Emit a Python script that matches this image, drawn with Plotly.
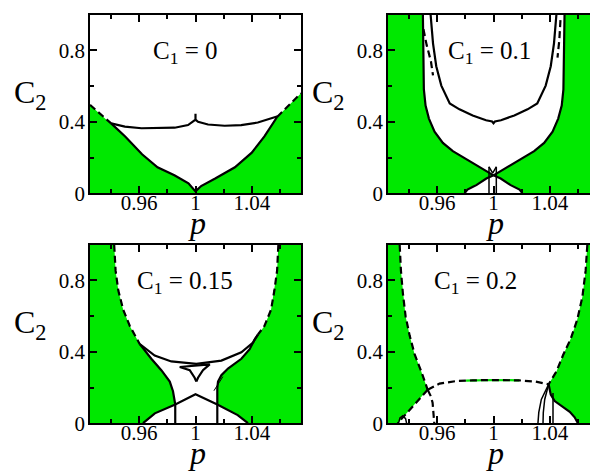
import plotly.graph_objects as go

# ---------------- axis ranges / ticks ----------------
P_MIN, P_MAX = 0.925, 1.075
C_MIN, C_MAX = 0.0, 1.0
X_TICKS = [0.96, 1.0, 1.04]
X_TICK_TEXT = ["0.96", "1", "1.04"]
X_MINOR = [0.94, 0.98, 1.02, 1.06]
Y_TICKS = [0.0, 0.4, 0.8]
Y_TICK_TEXT = ["0", "0.4", "0.8"]
Y_MINOR = [0.2, 0.6]
PANEL_LABELS = ["C<sub>1</sub> = 0", "C<sub>1</sub> = 0.1",
                "C<sub>1</sub> = 0.15", "C<sub>1</sub> = 0.2"]
LABEL_P = [0.993, 0.997, 0.9925, 0.987]
LABEL_C = [0.79, 0.79, 0.79, 0.79]

# ---------------- panel 1 : C1 = 0 ----------------
P1_BOUND_P = [0.925, 0.940, 0.950, 0.962, 0.973, 0.985, 0.995, 1.000, 1.004, 1.014, 1.028, 1.040, 1.049, 1.058, 1.075]
P1_BOUND_C = [0.495, 0.391, 0.318, 0.218, 0.145, 0.100, 0.055, 0.010, 0.040, 0.082, 0.145, 0.227, 0.318, 0.427, 0.560]
P1_UPPER_P = [0.940, 0.9498, 0.9616, 0.9734, 0.9852, 0.9947, 0.9994, 1.000, 1.000, 1.000, 1.0018, 1.0089, 1.0207, 1.0325, 1.0443, 1.0585]
P1_UPPER_C = [0.391, 0.373, 0.364, 0.364, 0.367, 0.382, 0.405, 0.412, 0.445, 0.412, 0.400, 0.385, 0.378, 0.382, 0.396, 0.431]

# ---------------- panel 2 : C1 = 0.1 ----------------
P2_OUT_C = [1.0, 0.764, 0.582, 0.491, 0.418, 0.345, 0.282, 0.236, 0.191, 0.145, 0.100]
P2_OUTL_P = [0.9498, 0.9500, 0.9505, 0.9517, 0.9541, 0.9581, 0.9640, 0.9711, 0.9805, 0.9911, 1.0]
P2_OUTR_P = [1.0505, 1.0503, 1.0497, 1.0485, 1.0460, 1.0420, 1.0360, 1.0289, 1.0195, 1.0089, 1.0]
P2_LENSL_P = [0.9795, 0.9815, 0.9854, 0.9878, 0.9949, 1.0]
P2_LENSL_C = [0.0, 0.020, 0.036, 0.045, 0.082, 0.100]
P2_LENSR_P = [1.0, 1.0051, 1.0122, 1.0146, 1.0185, 1.0205]
P2_LENSR_C = [0.100, 0.082, 0.045, 0.036, 0.020, 0.0]
P2_INNER_P = [0.9553, 0.957, 0.9593, 0.9629, 0.9689, 0.9758, 0.9852, 0.9947, 0.999, 1.0, 1.001, 1.0053, 1.0148, 1.0242, 1.0311, 1.0371, 1.0407, 1.043, 1.0447]
P2_INNER_C = [1.0, 0.84, 0.712, 0.603, 0.503, 0.47, 0.436, 0.409, 0.402, 0.392, 0.402, 0.409, 0.436, 0.47, 0.503, 0.603, 0.712, 0.84, 1.0]
P2_DASHL_P = [0.9502, 0.9525, 0.9555, 0.957]
P2_DASHL_C = [0.92, 0.83, 0.74, 0.66]
P2_DASHR_P = [1.0476, 1.0468, 1.0455]
P2_DASHR_C = [0.97, 0.86, 0.76]
P2_VERT_P = [0.9968, 1.002]
P2_VERT_TOP = 0.148
P2_V_P = [0.9968, 0.9994, 1.002]
P2_V_C = [0.148, 0.112, 0.148]

# ---------------- panel 3 : C1 = 0.15 ----------------
P3_DASHL_P = [0.9422, 0.9432, 0.9451, 0.9486, 0.9533, 0.9604]
P3_DASHL_C = [1.0, 0.855, 0.745, 0.636, 0.545, 0.443]
P3_LOWL_P = [0.9604, 0.9686, 0.9757, 0.9817, 0.984, 0.9852, 0.9856]
P3_LOWL_C = [0.443, 0.361, 0.297, 0.233, 0.179, 0.130, 0.105]
P3_DASHR_P = [1.0589, 1.058, 1.0561, 1.0537, 1.049, 1.0444]
P3_DASHR_C = [1.0, 0.855, 0.745, 0.636, 0.545, 0.497]
P3_LOWR_P = [1.0444, 1.0421, 1.0385, 1.0326, 1.0231, 1.0184, 1.016, 1.0155, 1.0155]
P3_LOWR_C = [0.497, 0.47, 0.415, 0.361, 0.306, 0.269, 0.233, 0.197, 0.105]
P3_BUMP_P = [0.9627, 0.9711, 0.9856, 1.0, 1.0155, 1.030, 1.0373]
P3_BUMP_C = [0.0, 0.055, 0.105, 0.162, 0.105, 0.045, 0.0]
P3_ARC_P = [0.9604, 0.971, 0.9828, 1.0006, 1.0184, 1.0326, 1.0409, 1.0444]
P3_ARC_C = [0.443, 0.379, 0.346, 0.333, 0.351, 0.397, 0.452, 0.497]
P3_SWALLOW_P = [1.0006, 0.9994, 0.9959, 0.9888, 1.0101, 1.0053, 1.0018, 1.0006]
P3_SWALLOW_C = [0.233, 0.255, 0.297, 0.315, 0.330, 0.297, 0.255, 0.233]
P3_TICK_P = [1.0131, 1.0195]
P3_TICK_C = [0.182, 0.261]

# ---------------- panel 4 : C1 = 0.2 ----------------
P4_DASHL_P = [0.9333, 0.9342, 0.9356, 0.9375, 0.9404, 0.9439, 0.9486, 0.9532]
P4_DASHL_C = [1.0, 0.855, 0.727, 0.6, 0.491, 0.387, 0.291, 0.187]
P4_LOWL_P = [0.9532, 0.9449, 0.9354, 0.9319]
P4_LOWL_C = [0.187, 0.115, 0.033, 0.0]
P4_ARCH_P = [0.9325, 0.9335, 0.9355, 0.9375, 0.9382]
P4_ARCH_C = [0.0, 0.030, 0.042, 0.025, 0.0]
P4_DOWN_P = [0.9532, 0.9555, 0.9567, 0.9579]
P4_DOWN_C = [0.187, 0.150, 0.115, 0.0]
P4_ARC_P = [0.9532, 0.9616, 0.9734, 0.9805, 0.9852, 1.0, 1.0183, 1.0301, 1.0392]
P4_ARC_C = [0.187, 0.222, 0.236, 0.239, 0.240, 0.242, 0.240, 0.233, 0.218]
P4_DASHR_P = [1.0667, 1.0655, 1.0632, 1.0596, 1.0549, 1.0495, 1.0448, 1.0392]
P4_DASHR_C = [1.0, 0.855, 0.709, 0.582, 0.473, 0.382, 0.291, 0.218]
P4_LOWR_P = [1.0392, 1.0407, 1.0435, 1.0482, 1.0542, 1.0577, 1.060]
P4_LOWR_C = [0.218, 0.160, 0.124, 0.097, 0.064, 0.033, 0.0]
P4_FAN1_P = [1.0392, 1.034, 1.0322, 1.0316]
P4_FAN1_C = [0.218, 0.133, 0.060, 0.0]
P4_FAN2_P = [1.0392, 1.0364, 1.0354, 1.0352]
P4_FAN2_C = [0.218, 0.133, 0.060, 0.0]
P4_FAN3_P = [1.0423, 1.0423]
P4_FAN3_C = [0.169, 0.0]

GREEN = "#00e800"
FONT = "Liberation Serif"
DASH = "7px,4px"
LW = 2.2

fig = go.Figure()
AX = [("x", "y"), ("x2", "y2"), ("x3", "y3"), ("x4", "y4")]


def fill(k, ps, cs):
    fig.add_trace(go.Scatter(x=ps, y=cs, xaxis=AX[k][0], yaxis=AX[k][1], mode="lines",
                             fill="toself", fillcolor=GREEN, line=dict(width=0, color=GREEN),
                             hoverinfo="skip", showlegend=False))


def line(k, ps, cs, dash="solid", color="black", width=LW):
    fig.add_trace(go.Scatter(x=ps, y=cs, xaxis=AX[k][0], yaxis=AX[k][1], mode="lines",
                             line=dict(color=color, width=width, dash=dash),
                             hoverinfo="skip", showlegend=False))


# panel 1
fill(0, P1_BOUND_P + [P_MAX, P_MIN], P1_BOUND_C + [C_MIN, C_MIN])
line(0, P1_BOUND_P[0:2], P1_BOUND_C[0:2], dash=DASH)
line(0, P1_BOUND_P[1:14], P1_BOUND_C[1:14])
line(0, P1_BOUND_P[13:], P1_BOUND_C[13:], dash=DASH)
line(0, P1_UPPER_P, P1_UPPER_C)

# panel 2
fill(1, [P_MIN] + P2_OUTL_P + P2_LENSL_P[::-1] + [P_MIN],
     [C_MAX] + P2_OUT_C + P2_LENSL_C[::-1] + [C_MIN])
fill(1, [P_MAX] + P2_OUTR_P + P2_LENSR_P + [P_MAX],
     [C_MAX] + P2_OUT_C + P2_LENSR_C + [C_MIN])
line(1, P2_OUTL_P, P2_OUT_C)
line(1, P2_OUTR_P, P2_OUT_C)
line(1, P2_LENSL_P, P2_LENSL_C)
line(1, P2_LENSR_P, P2_LENSR_C)
line(1, P2_INNER_P, P2_INNER_C)
line(1, P2_DASHL_P, P2_DASHL_C, dash=DASH)
line(1, P2_DASHR_P, P2_DASHR_C, dash=DASH)
for vp in P2_VERT_P:
    line(1, [vp, vp], [C_MIN, P2_VERT_TOP], width=1.5)
line(1, P2_V_P, P2_V_C, width=1.5)

# panel 3
fill(2, [P_MIN] + P3_DASHL_P + P3_LOWL_P[1:] + P3_BUMP_P[0:3][::-1] + [P_MIN],
     [C_MAX] + P3_DASHL_C + P3_LOWL_C[1:] + P3_BUMP_C[0:3][::-1] + [C_MIN])
fill(2, [P_MAX] + P3_DASHR_P + P3_LOWR_P[1:] + P3_BUMP_P[4:] + [P_MAX],
     [C_MAX] + P3_DASHR_C + P3_LOWR_C[1:] + P3_BUMP_C[4:] + [C_MIN])
line(2, P3_DASHL_P, P3_DASHL_C, dash=DASH)
line(2, P3_DASHR_P, P3_DASHR_C, dash=DASH)
line(2, P3_LOWL_P + [P3_LOWL_P[-1]], P3_LOWL_C + [C_MIN])
line(2, P3_LOWR_P + [P3_LOWR_P[-1]], P3_LOWR_C + [C_MIN])
line(2, P3_BUMP_P, P3_BUMP_C)
line(2, P3_ARC_P, P3_ARC_C)
line(2, P3_SWALLOW_P, P3_SWALLOW_C)
line(2, P3_TICK_P, P3_TICK_C, width=1)

# panel 4
fill(3, [P_MIN] + P4_DASHL_P + P4_LOWL_P[1:] + [P_MIN],
     [C_MAX] + P4_DASHL_C + P4_LOWL_C[1:] + [C_MIN])
fill(3, [P_MAX] + P4_DASHR_P + P4_LOWR_P[1:] + [P_MAX],
     [C_MAX] + P4_DASHR_C + P4_LOWR_C[1:] + [C_MIN])
line(3, P4_ARC_P[3:7], P4_ARC_C[3:7], color=GREEN, width=LW)
line(3, P4_DASHL_P, P4_DASHL_C, dash=DASH)
line(3, P4_LOWL_P, P4_LOWL_C, dash=DASH)
line(3, P4_ARCH_P, P4_ARCH_C, width=1.5)
line(3, P4_DOWN_P, P4_DOWN_C, dash=DASH)
line(3, P4_ARC_P, P4_ARC_C, dash=DASH)
line(3, P4_DASHR_P, P4_DASHR_C, dash=DASH)
line(3, P4_LOWR_P, P4_LOWR_C)
line(3, P4_FAN1_P, P4_FAN1_C, width=1.5)
line(3, P4_FAN2_P, P4_FAN2_C, width=1.5)
line(3, P4_FAN3_P, P4_FAN3_C, width=1.5)

# ---------------- layout ----------------
W, H = 598, 472
XDOM = [[82 / W, 293 / W], [380 / W, 591 / W]]
YDOM = [[(H - 190) / H, (H - 7) / H], [(H - 426) / H, (H - 243) / H]]

tickfont = dict(family=FONT, size=21, color="black")
layout = dict(width=W, height=H, margin=dict(l=0, r=0, t=0, b=0),
              paper_bgcolor="white", plot_bgcolor="white", showlegend=False)
for i in range(4):
    r, c = divmod(i, 2)
    xa = "xaxis" if i == 0 else f"xaxis{i + 1}"
    ya = "yaxis" if i == 0 else f"yaxis{i + 1}"
    ay = "y" if i == 0 else f"y{i + 1}"
    ax_ = "x" if i == 0 else f"x{i + 1}"
    common = dict(showline=True, mirror="ticks", linecolor="black", linewidth=1.5,
                  ticks="inside", ticklen=7, tickwidth=1.5, tickcolor="black",
                  showgrid=False, zeroline=False, tickfont=tickfont, fixedrange=True)
    layout[xa] = dict(domain=XDOM[c], range=[P_MIN, P_MAX], anchor=ay,
                      tickvals=X_TICKS, ticktext=X_TICK_TEXT, ticklabelstandoff=-10,
                      minor=dict(tickvals=X_MINOR, ticks="inside", ticklen=4,
                                 tickwidth=1.5, tickcolor="black", showgrid=False),
                      **common)
    layout[ya] = dict(domain=YDOM[r], range=[C_MIN, C_MAX], anchor=ax_,
                      tickvals=Y_TICKS, ticktext=Y_TICK_TEXT, ticklabelstandoff=-1,
                      minor=dict(tickvals=Y_MINOR, ticks="inside", ticklen=4,
                                 tickwidth=1.5, tickcolor="black", showgrid=False),
                      **common)
fig.update_layout(**layout)

annotations = []
for i in range(4):
    r, c = divmod(i, 2)
    ax_ = "x" if i == 0 else f"x{i + 1}"
    ay = "y" if i == 0 else f"y{i + 1}"
    annotations.append(dict(x=LABEL_P[i], y=LABEL_C[i], xref=ax_, yref=ay,
                            text=PANEL_LABELS[i], showarrow=False,
                            font=dict(family=FONT, size=25, color="black"),
                            xanchor="center", yanchor="middle"))
    x0 = 4 + c * 298
    y0 = 89 + r * 236
    annotations.append(dict(x=x0 / W, y=1 - y0 / H, xref="paper", yref="paper",
                            text="C<sub>2</sub>", showarrow=False,
                            font=dict(family=FONT, size=32, color="black"),
                            xanchor="left", yanchor="middle"))
    annotations.append(dict(x=(189 + c * 298) / W, y=1 - (221 + r * 236) / H,
                            xref="paper", yref="paper", text="<i>p</i>", showarrow=False,
                            font=dict(family=FONT, size=32, color="black"),
                            xanchor="center", yanchor="middle"))
fig.update_layout(annotations=annotations)

fig.write_html("out.html")
